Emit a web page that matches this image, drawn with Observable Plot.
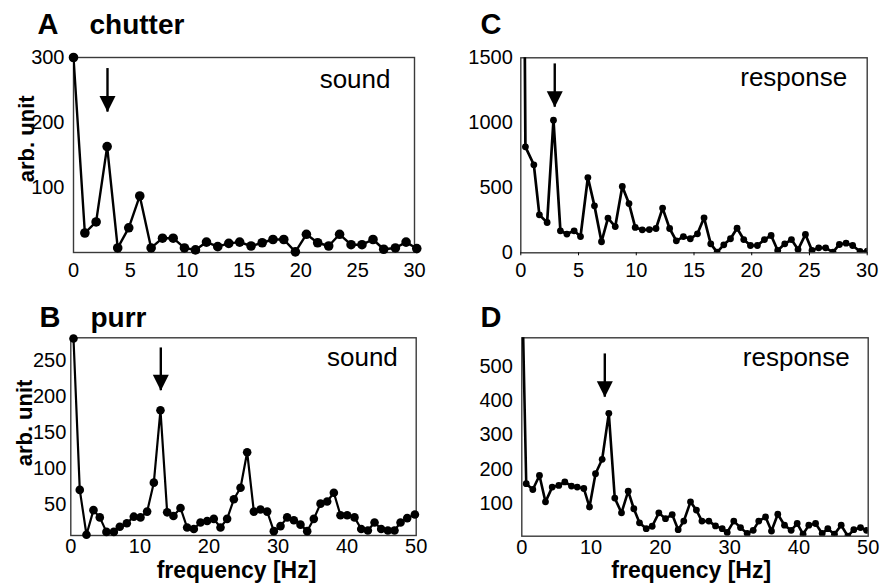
<!DOCTYPE html>
<html><head><meta charset="utf-8">
<script src="https://cdn.jsdelivr.net/npm/d3@7"></script>
<script src="https://cdn.jsdelivr.net/npm/@observablehq/plot@0.6"></script>
<style>
html,body{margin:0;padding:0;background:#fff;}
#chart{position:relative;width:881px;height:586px;overflow:hidden;background:#fff;}
#chart svg{position:absolute;}
</style></head><body><div id="chart"></div>
<script>
// ---- data ----
// A: chutter, sound spectrum
const chutterSoundFreq = [0, 1.0, 1.99, 2.96, 3.89, 4.86, 5.83, 6.83, 7.83, 8.77, 9.76, 10.73, 11.7, 12.69, 13.66, 14.62, 15.62, 16.6, 17.55, 18.5, 19.52, 20.49, 21.48, 22.45, 23.41, 24.42, 25.38, 26.35, 27.29, 28.32, 29.26, 30.2];
const chutterSound = [300, 30, 47, 163, 7, 38, 87, 7, 22, 22, 7, 4, 16, 9, 14, 16, 10, 15, 20, 20, 1, 28, 15, 10, 28, 12, 12, 20, 5, 7, 16, 6];
// C: chutter, response spectrum
const chutterRespFreq = [0.30, 0.40, 1.13, 1.61, 2.28, 2.83, 3.43, 3.99, 4.62, 5.17, 5.81, 6.38, 6.99, 7.55, 8.18, 8.79, 9.37, 9.91, 10.52, 11.13, 11.71, 12.28, 12.89, 13.47, 14.08, 14.68, 15.30, 15.87, 16.45, 17.00, 17.58, 18.16, 18.73, 19.31, 19.89, 20.49, 21.10, 21.68, 22.25, 22.86, 23.44, 24.01, 24.65, 25.22, 25.80, 26.40, 27.04, 27.59, 28.17, 28.74, 29.38, 30.0];
const chutterResponse = [2186, 815, 677, 292, 233, 1020, 169, 144, 169, 125, 579, 361, 85, 267, 202, 510, 379, 195, 177, 179, 187, 344, 187, 92, 125, 108, 146, 269, 69, 5, 61, 108, 189, 102, 56, 56, 102, 133, 18, 69, 102, 25, 141, 18, 38, 38, 5, 64, 74, 56, 10, 12];
// B: purr, sound spectrum
const purrSoundFreq = [0.39, 1.30, 2.27, 3.28, 4.20, 5.16, 6.23, 7.09, 8.11, 9.12, 10.09, 11.05, 12.02, 12.98, 13.95, 14.86, 15.88, 16.84, 17.81, 18.77, 19.74, 20.70, 21.67, 22.63, 23.60, 24.57, 25.53, 26.50, 27.46, 28.43, 29.39, 30.36, 31.32, 32.29, 33.25, 34.22, 35.18, 36.15, 37.11, 38.08, 39.04, 40.01, 41.07, 42.04, 43.0, 43.97, 44.93, 45.90, 46.86, 47.73, 48.70, 49.81];
const purrSound = [280, 71, 9, 43, 33, 13, 13, 20, 25, 34, 33, 41, 81, 181, 40, 35, 46, 19, 17, 26, 28, 31, 19, 31, 58, 74, 123, 41, 44, 41, 14, 21, 33, 29, 23, 14, 31, 52, 55, 67, 36, 36, 33, 17, 15, 26, 17, 15, 15, 26, 32, 37];
// D: purr, response spectrum
const purrRespFreq = [0.08, 0.64, 1.59, 2.55, 3.42, 4.39, 5.34, 6.21, 7.17, 8.0, 8.95, 9.77, 10.64, 11.6, 12.56, 13.42, 14.39, 15.36, 16.17, 16.99, 17.96, 18.82, 19.78, 20.74, 21.71, 22.57, 23.38, 24.35, 25.2, 26.0, 27.0, 27.96, 28.93, 29.65, 30.6, 31.57, 32.53, 33.4, 34.2, 35.18, 36.04, 36.95, 37.92, 38.88, 39.75, 40.6, 41.43, 42.4, 43.36, 44.17, 45.13, 46.1, 47.06, 47.92, 48.89, 49.76];
const purrResponse = [700, 158, 141, 182, 105, 148, 153, 163, 151, 148, 144, 90, 187, 229, 363, 116, 73, 136, 85, 44, 27, 34, 73, 56, 68, 24, 49, 105, 81, 49, 49, 35, 27, 16, 49, 30, 13, 22, 49, 61, 20, 69, 37, 22, 42, 11, 37, 42, 13, 27, 11, 37, 5, 24, 30, 22];

// arrows marking the call rate: panels A, C, B, D
const arrowFreq = [2.99, 2.94, 13.03, 11.98];
const arrowTop  = [283, 1453, 267, 536];
const arrowTip  = [216, 1120, 208, 410];

// tick labels
const xTicks30 = [0, 5, 10, 15, 20, 25, 30];
const xTicks50 = [0, 10, 20, 30, 40, 50];
const yTicksA = [100, 200, 300];
const yTicksC = [0, 500, 1000, 1500];
const yTicksB = [50, 100, 150, 200, 250];
const yTicksD = [100, 200, 300, 400, 500];

// texts
const panelLetters = ["A", "C", "B", "D"];
const callNames = ["chutter", "purr"];
const traceNames = ["sound", "response"];
const yLabel = "arb. unit";
const xLabel = "frequency [Hz]";

// ---- drawing ----
const FONT = "'Liberation Sans', Arial, Helvetica, sans-serif";
const arrowHead = {draw(ctx) { ctx.moveTo(-8, -16); ctx.lineTo(8, -16); ctx.lineTo(0, 0); ctx.closePath(); }};

function panel(o) {
  const data = o.freq.map((f, i) => ({f, v: o.vals[i]}));
  const marks = [
    Plot.frame({stroke: "#3a3a3a", strokeWidth: 1.4}),
    Plot.axisX({ticks: o.xTicks, tickFormat: "d", tickSize: o.xTickSize, tickPadding: o.xPad, label: null, fontSize: 20}),
    Plot.axisY({ticks: o.yTicks, tickFormat: "d", tickSize: 0, tickPadding: o.yPad, label: null, fontSize: 20}),
    Plot.line(data, {x: "f", y: "v", stroke: "black", strokeWidth: o.lw, clip: true}),
    Plot.dot(data, {x: "f", y: "v", r: o.r, fill: "black", stroke: "none", clip: o.clipDots}),
    Plot.ruleX([0], {x: () => arrowFreq[o.ai], y1: () => arrowTop[o.ai], y2: () => arrowTip[o.ai], stroke: "black", strokeWidth: 2.4}),
    Plot.dot([0], {x: () => arrowFreq[o.ai], y: () => arrowTip[o.ai], symbol: arrowHead, r: 4, fill: "black", stroke: "none"}),
    Plot.text([panelLetters[o.ai]], {text: d => d, frameAnchor: "top-left", textAnchor: "start", lineAnchor: "bottom", dx: o.letterDx, dy: o.letterDy, fontSize: 29, fontWeight: "bold"}),
    Plot.text([o.trace], {text: d => d, frameAnchor: "top-right", textAnchor: "end", lineAnchor: "bottom", dx: o.traceDx, dy: o.traceDy, fontSize: 26})
  ];
  if (o.call) marks.push(Plot.text([o.call], {text: d => d, frameAnchor: "top-left", textAnchor: "start", lineAnchor: "bottom", dx: o.callDx, dy: o.letterDy, fontSize: 28, fontWeight: "bold"}));
  if (o.yLab) marks.push(Plot.text([yLabel], {text: d => d, frameAnchor: "left", rotate: -90, textAnchor: "middle", lineAnchor: "bottom", dx: o.yLabDx, dy: o.yLabDy, fontSize: 22, fontWeight: "bold"}));
  if (o.xLab) marks.push(Plot.text([xLabel], {text: d => d, frameAnchor: "bottom", textAnchor: "middle", lineAnchor: "bottom", dx: o.xLabDx, dy: o.xLabDy, fontSize: 23, fontWeight: "bold"}));
  const svg = Plot.plot({
    width: o.w, height: o.h,
    marginLeft: o.ml, marginRight: o.mr, marginTop: o.mt, marginBottom: o.mb,
    x: {domain: o.xDomain},
    y: {domain: o.yDomain},
    style: {fontFamily: FONT, fontSize: "20px", color: "#000", background: "transparent", overflow: "visible"},
    marks
  });
  svg.style.left = o.left + "px";
  svg.style.top = o.top + "px";
  document.getElementById("chart").appendChild(svg);
}

// A
panel({left: 0, top: 0, w: 440, h: 290, ml: 73, mr: 26, mt: 57, mb: 38,
  freq: chutterSoundFreq, vals: chutterSound, xDomain: [0, 30], yDomain: [0, 300],
  xTicks: xTicks30, yTicks: yTicksA, xTickSize: 0, xPad: 10, yPad: 9, lw: 2.4, r: 4.8, clipDots: false, ai: 0,
  letterDx: -36, letterDy: -23.7, call: callNames[0], callDx: 16, trace: traceNames[0], traceDx: -24, traceDy: 30,
  yLab: true, yLabDx: -39.7, yLabDy: -16.2});
// C
panel({left: 440, top: 0, w: 441, h: 290, ml: 80.3, mr: 14.3, mt: 57.3, mb: 37.7,
  freq: chutterRespFreq, vals: chutterResponse, xDomain: [0, 30], yDomain: [0, 1500],
  xTicks: xTicks30, yTicks: yTicksC, xTickSize: 3, xPad: 7, yPad: 8, lw: 2.7, r: 3.4, clipDots: true, ai: 1,
  letterDx: -40.3, letterDy: -24, trace: traceNames[1], traceDx: -20, traceDy: 27.7});
// B
panel({left: 0, top: 290, w: 440, h: 296, ml: 70.3, mr: 24.3, mt: 47.3, mb: 51,
  freq: purrSoundFreq, vals: purrSound, xDomain: [0, 50], yDomain: [8, 281],
  xTicks: xTicks50, yTicks: yTicksB, xTickSize: 0, xPad: 3, yPad: 4.5, lw: 2.2, r: 4.3, clipDots: false, ai: 2,
  letterDx: -31.3, letterDy: -10.6, call: callNames[1], callDx: 19.7, trace: traceNames[0], traceDx: -18.4, traceDy: 27.7,
  yLab: true, yLabDx: -38.6, yLabDy: -13.7, xLab: true, xLabDx: -7, xLabDy: 42});
// D
panel({left: 440, top: 290, w: 441, h: 296, ml: 81.3, mr: 13.3, mt: 47.3, mb: 50.3,
  freq: purrRespFreq, vals: purrResponse, xDomain: [0, 50], yDomain: [5, 583],
  xTicks: xTicks50, yTicks: yTicksD, xTickSize: 0, xPad: 4, yPad: 9, lw: 2.6, r: 3.4, clipDots: true, ai: 3,
  letterDx: -41.3, letterDy: -10.6, trace: traceNames[1], traceDx: -18.4, traceDy: 27.7,
  xLab: true, xLabDx: -3.8, xLabDy: 41.3});
</script></body></html>
